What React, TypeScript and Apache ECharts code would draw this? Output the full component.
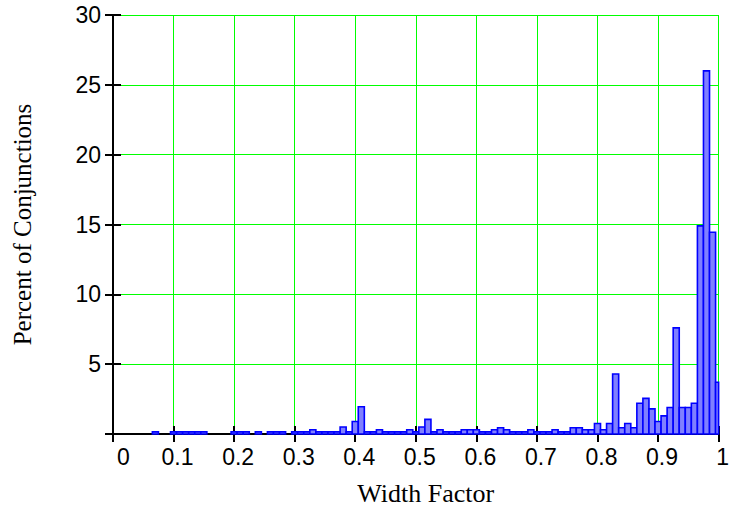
import React, { useEffect, useRef } from "react";
import * as echarts from "echarts";

// Histogram bins (bin centres) and percent of conjunctions in each
const widthFactor = [
  0.07, 0.10, 0.11, 0.12, 0.13, 0.14, 0.15,
  0.20, 0.21, 0.22, 0.24, 0.26, 0.27, 0.28,
  0.30, 0.31, 0.32, 0.33, 0.34, 0.35, 0.36, 0.37, 0.38, 0.39,
  0.40, 0.41, 0.42, 0.43, 0.44, 0.45, 0.46, 0.47, 0.48, 0.49,
  0.50, 0.51, 0.52, 0.53, 0.54, 0.55, 0.56, 0.57, 0.58, 0.59,
  0.60, 0.61, 0.62, 0.63, 0.64, 0.65, 0.66, 0.67, 0.68, 0.69,
  0.70, 0.71, 0.72, 0.73, 0.74, 0.75, 0.76, 0.77, 0.78, 0.79,
  0.80, 0.81, 0.82, 0.83, 0.84, 0.85, 0.86, 0.87, 0.88, 0.89,
  0.90, 0.91, 0.92, 0.93, 0.94, 0.95, 0.96, 0.97, 0.98, 0.99,
  1.00,
];
const percent = [
  0.15, 0.15, 0.15, 0.15, 0.15, 0.15, 0.15,
  0.15, 0.15, 0.15, 0.15, 0.15, 0.15, 0.15,
  0.15, 0.15, 0.15, 0.3, 0.15, 0.15, 0.15, 0.15, 0.5, 0.15,
  0.9, 1.95, 0.15, 0.15, 0.3, 0.15, 0.15, 0.15, 0.15, 0.3,
  0.15, 0.5, 1.05, 0.15, 0.3, 0.15, 0.15, 0.15, 0.3, 0.3,
  0.3, 0.15, 0.15, 0.3, 0.45, 0.3, 0.15, 0.15, 0.15, 0.3,
  0.15, 0.15, 0.15, 0.3, 0.15, 0.15, 0.45, 0.45, 0.3, 0.3,
  0.75, 0.3, 0.75, 4.3, 0.45, 0.75, 0.45, 2.2, 2.55, 1.8,
  0.9, 1.3, 1.9, 7.6, 1.9, 1.9, 2.2, 14.9, 26.0, 14.45,
  3.7,
];
const xTickLabels = ["0", "0.1", "0.2", "0.3", "0.4", "0.5", "0.6", "0.7", "0.8", "0.9", "1"];
const yTickLabels = ["", "5", "10", "15", "20", "25", "30"];

const BIN_WIDTH = 0.01;
const SANS = "'Liberation Sans', Arial, sans-serif";
const SERIF = "'Liberation Serif', 'Times New Roman', serif";
const GRID_GREEN = "#00ff00";

export default function App() {
  const ref = useRef<HTMLDivElement>(null);

  useEffect(() => {
    document.body.style.margin = "0";
    const chart = echarts.init(ref.current!, undefined, { renderer: "svg" });

    const data = widthFactor.map((c, i) => [c, percent[i]]);

    const labelRich = {
      z: { fontSize: 23, fontFamily: SANS, color: "#000", padding: [0, 0, 0, 21] },
      n: { fontSize: 23, fontFamily: SANS, color: "#000", padding: [0, 0, 0, 8] },
    };

    const gridSplit = {
      show: true,
      showMinLine: false,
      showMaxLine: true,
      lineStyle: { color: [GRID_GREEN], width: 1, opacity: 1 },
    };

    chart.setOption({
      animation: false,
      backgroundColor: "#fff",
      grid: { left: 113, right: 9, top: 15, bottom: 76, containLabel: false },
      xAxis: [
        {
          type: "value",
          min: 0,
          max: 1,
          interval: 0.1,
          position: "bottom",
          name: "Width Factor",
          nameLocation: "middle",
          nameGap: 46,
          nameTextStyle: { fontFamily: SERIF, fontSize: 26, color: "#000", padding: [0, 0, 0, 20] },
          axisLine: { show: true, onZero: false, lineStyle: { color: "#000", width: 2 } },
          axisTick: { show: true, inside: false, length: 8, lineStyle: { color: "#000", width: 2 } },
          axisLabel: {
            margin: 11,
            fontSize: 23,
            fontFamily: SANS,
            color: "#000",
            formatter: (v: number) => {
              const i = Math.round(v * 10);
              const t = xTickLabels[i] ?? "";
              return i === 0 ? `{z|${t}}` : `{n|${t}}`;
            },
            rich: labelRich,
          },
          splitLine: gridSplit,
        },
        {
          type: "value",
          min: 0,
          max: 1,
          interval: 0.1,
          position: "bottom",
          axisLine: { show: false },
          axisTick: { show: true, inside: true, length: 8, lineStyle: { color: "#000", width: 2 } },
          axisLabel: { show: false },
          splitLine: { show: false },
          splitArea: { show: false },
        },
      ],
      yAxis: [
        {
          type: "value",
          min: 0,
          max: 30,
          interval: 5,
          position: "left",
          name: "Percent of Conjunctions",
          nameLocation: "middle",
          nameGap: 78,
          nameTextStyle: { fontFamily: SERIF, fontSize: 25, color: "#000" },
          axisLine: { show: true, onZero: false, lineStyle: { color: "#000", width: 2 } },
          axisTick: { show: true, inside: false, length: 8, lineStyle: { color: "#000", width: 2 } },
          axisLabel: {
            margin: 12,
            fontSize: 23,
            fontFamily: SANS,
            color: "#000",
            formatter: (v: number) => yTickLabels[Math.round(v / 5)] ?? "",
          },
          splitLine: gridSplit,
        },
        {
          type: "value",
          min: 0,
          max: 30,
          interval: 5,
          position: "left",
          axisLine: { show: false },
          axisTick: { show: true, inside: true, length: 8, lineStyle: { color: "#000", width: 2 } },
          axisLabel: { show: false },
          splitLine: { show: false },
          splitArea: { show: false },
        },
      ],
      series: [
        {
          type: "custom",
          xAxisIndex: 0,
          yAxisIndex: 0,
          data,
          z: 1,
          renderItem: (params: any, api: any) => {
            const c = api.value(0);
            const v = api.value(1);
            const p1 = api.coord([c - BIN_WIDTH / 2, v]);
            const p2 = api.coord([c + BIN_WIDTH / 2, 0]);
            const cs = params.coordSys;
            const rect = echarts.graphic.clipRectByRect(
              { x: p1[0], y: p1[1], width: p2[0] - p1[0], height: p2[1] - p1[1] },
              { x: cs.x, y: cs.y, width: cs.width, height: cs.height }
            );
            if (!rect) return null;
            return {
              type: "rect",
              shape: rect,
              style: { fill: "#8080ff", stroke: "#0000ff", lineWidth: 1.6 },
            };
          },
        },
      ],
    });

    return () => chart.dispose();
  }, []);

  return <div ref={ref} style={{ width: 732, height: 511 }} />;
}
